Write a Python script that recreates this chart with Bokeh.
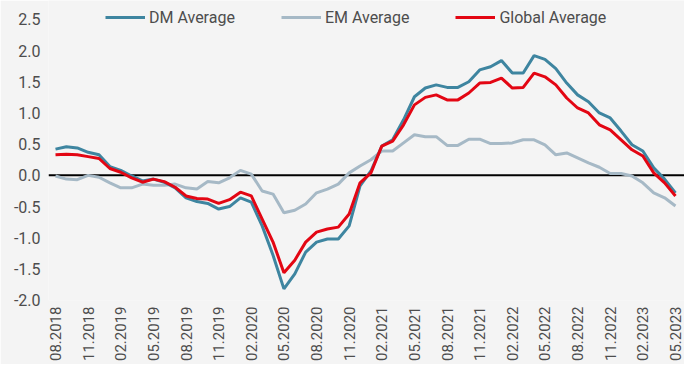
import math
from bokeh.plotting import figure
from bokeh.models import Range1d, FixedTicker, Span, Legend, LegendItem, NumeralTickFormatter
from bokeh.embed import file_html
from bokeh.resources import INLINE

months = [f"{m:02d}.{y}" for y in range(2018, 2024) for m in range(1, 13)]
months = months[months.index("08.2018"):months.index("05.2023") + 1]

dm_average = [0.42, 0.46, 0.44, 0.37, 0.33, 0.14, 0.08, -0.01, -0.09, -0.06,
              -0.11, -0.20, -0.36, -0.42, -0.45, -0.54, -0.50, -0.36, -0.43, -0.81,
              -1.28, -1.82, -1.58, -1.23, -1.07, -1.02, -1.02, -0.81, -0.17, 0.07,
              0.47, 0.57, 0.89, 1.26, 1.40, 1.45, 1.41, 1.41, 1.50, 1.69,
              1.74, 1.84, 1.64, 1.64, 1.92, 1.86, 1.71, 1.48, 1.29, 1.18,
              1.00, 0.92, 0.71, 0.49, 0.39, 0.12, -0.06, -0.28]
em_average = [-0.01, -0.06, -0.07, 0.00, -0.03, -0.12, -0.20, -0.20, -0.14, -0.16,
              -0.16, -0.14, -0.20, -0.22, -0.10, -0.12, -0.04, 0.08, 0.02, -0.25,
              -0.30, -0.60, -0.56, -0.46, -0.28, -0.22, -0.14, 0.04, 0.15, 0.25,
              0.39, 0.39, 0.52, 0.65, 0.62, 0.62, 0.48, 0.48, 0.58, 0.58,
              0.51, 0.51, 0.52, 0.57, 0.57, 0.49, 0.33, 0.36, 0.28, 0.20,
              0.13, 0.03, 0.03, -0.01, -0.12, -0.28, -0.36, -0.49]
global_average = [0.33, 0.34, 0.33, 0.30, 0.27, 0.11, 0.05, -0.04, -0.11, -0.06,
                  -0.10, -0.19, -0.33, -0.37, -0.38, -0.45, -0.39, -0.27, -0.33, -0.70,
                  -1.07, -1.56, -1.36, -1.07, -0.91, -0.86, -0.83, -0.62, -0.12, 0.04,
                  0.47, 0.55, 0.81, 1.13, 1.25, 1.29, 1.21, 1.21, 1.32, 1.48,
                  1.49, 1.56, 1.40, 1.41, 1.64, 1.58, 1.45, 1.24, 1.08, 1.00,
                  0.81, 0.73, 0.57, 0.41, 0.31, 0.04, -0.12, -0.33]
y_ticks = [-2.0, -1.5, -1.0, -0.5, 0.0, 0.5, 1.0, 1.5, 2.0, 2.5]

x = list(range(len(months)))
x_ticks = x[::3]

BG = "#f4f4f4"
FONT = "Roboto"
TXT = "#4d4d4d"

p = figure(width=684, height=364, output_backend="svg", toolbar_location=None,
           x_range=Range1d(-0.644, 57.83), y_range=Range1d(-2.006, 2.803),
           min_border_left=48, min_border_right=0, min_border_top=0, min_border_bottom=62)
p.background_fill_color = BG
p.border_fill_color = BG
p.outline_line_color = None
p.grid.visible = False

p.add_layout(Span(location=0, dimension="width", line_color="black", line_width=2, level="underlay"))

r_em = p.line(x, em_average, line_color="#a6b9c6", line_width=3)
r_dm = p.line(x, dm_average, line_color="#3e85a0", line_width=3)
r_gl = p.line(x, global_average, line_color="#e30613", line_width=3)

p.xaxis.ticker = FixedTicker(ticks=x_ticks)
p.xaxis.major_label_overrides = {i: months[i] for i in x_ticks}
p.xaxis.major_label_orientation = math.pi / 2
p.yaxis.ticker = FixedTicker(ticks=y_ticks)
p.yaxis.formatter = NumeralTickFormatter(format="0.0")
for ax in (p.xaxis, p.yaxis):
    ax.axis_line_color = None
    ax.major_tick_line_color = None
    ax.minor_tick_line_color = None
    ax.major_tick_out = 0
    ax.major_tick_in = 0
    ax.minor_tick_out = 0
    ax.minor_tick_in = 0
    ax.axis_label_standoff = 0
    ax.major_label_text_font = FONT
    ax.major_label_text_color = TXT
p.yaxis.major_label_text_font_size = "16px"
p.xaxis.major_label_text_font_size = "15px"
p.xaxis.major_label_standoff = 6
p.yaxis.major_label_standoff = 8

legend = Legend(items=[LegendItem(label="DM Average", renderers=[r_dm]),
                       LegendItem(label="EM Average", renderers=[r_em]),
                       LegendItem(label="Global Average", renderers=[r_gl])],
                orientation="horizontal", location=(57, 273))
legend.background_fill_alpha = 0
legend.border_line_alpha = 0
legend.padding = 0
legend.margin = 0
legend.spacing = 46
legend.glyph_width = 40
legend.glyph_height = 20
legend.label_height = 20
legend.label_standoff = 4
legend.label_text_font = FONT
legend.label_text_font_size = "16px"
legend.label_text_color = TXT
legend.label_text_baseline = "middle"
p.add_layout(legend)

open("out.html", "w").write(file_html(p, INLINE))
